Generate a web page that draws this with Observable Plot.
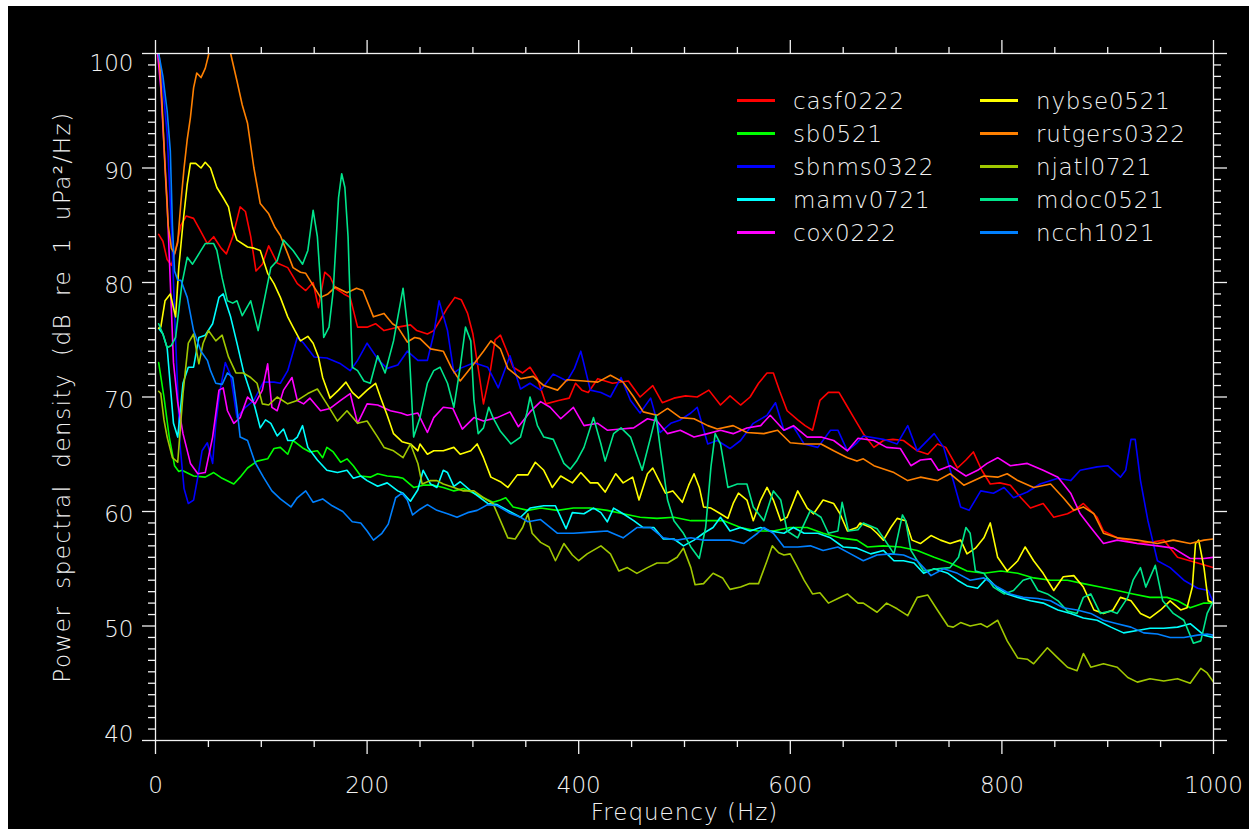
<!DOCTYPE html>
<html>
<head>
<meta charset="utf-8">
<script src="https://cdn.jsdelivr.net/npm/d3@7"></script>
<script src="https://cdn.jsdelivr.net/npm/@observablehq/plot@0.6"></script>
<style>
  html, body { margin: 0; padding: 0; background: #ffffff; }
  #wrap { position: relative; width: 1255px; height: 835px; overflow: hidden; }
  #bg { position: absolute; left: 8px; top: 6px; width: 1241px; height: 823px; background: #000; }
  #chart { position: absolute; left: 0; top: 0; }
  #legend { position: absolute; left: 737px; top: 84px; display: grid;
            grid-template-columns: 243px 243px; grid-auto-flow: column; grid-template-rows: repeat(5, 33px);
            font-family: "DejaVu Sans", sans-serif; font-weight: 200; font-size: 23px; color: #f2f2f2; letter-spacing: 0.8px; }
  .item { display: flex; align-items: center; height: 33px; white-space: nowrap; }
  .swatch { width: 38px; height: 0; border-top: 3px solid; margin-right: 18px; }
</style>
</head>
<body>
<div id="wrap">
  <div id="bg"></div>
  <div id="chart"></div>
  <div id="legend"></div>
</div>
<script>
// ---- series names (legend order) ----
const names = ["casf0222", "sb0521", "sbnms0322", "mamv0721", "cox0222",
               "nybse0521", "rutgers0322", "njatl0721", "mdoc0521", "ncch1021"];

// ---- series values: [frequency (Hz), PSD (dB re 1 uPa^2/Hz)] ----
const casf0222 = [[3,84.2],[7,83.6],[11,82],[15,81.5],[19,82.8],[24,85],[29,85.8],[36,85.6],[42,84.6],[49,83.4],[55,84],[62,83],[67,82.5],[73,84],[80,86.6],[85,86.2],[90,84],[95,81],[101,81.6],[107,83.2],[115,81.7],[125,81.3],[134,79.9],[142,79.3],[149,80],[154,77.8],[160,80.9],[165,80.5],[170,79.5],[178,79],[184,78.7],[191,76.1],[200,76.1],[208,76.4],[216,75.8],[229,76.1],[241,76.3],[247,75.8],[257,75.5],[263,75.8],[269,76.7],[276,77.8],[283,78.7],[289,78.5],[295,77.3],[300,75.5],[305,72.5],[310,69.4],[316,72],[321,75],[326,75.4],[333,73.8],[338,72.6],[347,72.1],[354,72.6],[361,71.6],[369,69.4],[381,69.7],[391,69.9],[397,71.2],[403,70.6],[409,70.4],[418,71.6],[432,71.2],[447,71.4],[458,70],[470,71],[479,69.5],[490,69.9],[501,70.1],[512,70],[523,70.6],[534,69.3],[543,70.1],[553,69.3],[562,70],[570,71.2],[578,72.1],[584,72.1],[590,70.5],[597,68.8],[607,68],[614,67.5],[621,67.1],[628,69.7],[636,70.4],[646,70.4],[653,69.3],[660,68.2],[669,66.8],[679,65.6],[688,66.2],[697,66.3],[707,66.2],[720,65.3],[730,65],[739,65.9],[747,65.6],[758,63.8],[766,64.5],[773,65.2],[781,63.6],[789,62.4],[798,62.5],[808,62.3],[818,61.2],[827,60.3],[839,60.7],[849,59.5],[862,59.8],[870,60.2],[877,60.7],[890,59.5],[896,58.3],[909,57.7],[928,57.2],[940,57.3],[953,57.5],[966,56],[985,55.5],[1000,55.1]];

const sb0521 = [[3,73],[8,70],[13,66.5],[18,64],[22,63.5],[25,63.6],[36,63.1],[47,63],[55,63.4],[63,62.9],[74,62.4],[80,63],[87,63.8],[96,64.4],[106,64.6],[112,65.5],[118,65.6],[125,65],[130,66.2],[140,65.5],[146,65.2],[153,65.3],[158,64.7],[162,65.6],[168,65.2],[175,64.3],[181,64.6],[187,64],[194,63.1],[203,63],[210,63.3],[219,63.1],[229,63],[234,62.9],[244,62.1],[253,62.3],[263,62.3],[272,62.1],[282,61.8],[291,62],[301,61.6],[310,61.2],[319,60.8],[326,61],[331,61.2],[338,60.4],[352,60.1],[364,60.3],[380,60.1],[395,60.3],[411,60.3],[427,60.1],[442,59.8],[458,59.5],[474,59.4],[490,59.5],[506,59.2],[522,59.2],[537,59.2],[553,58.6],[569,58.3],[584,58.3],[600,58.6],[616,58.6],[631,58.1],[647,57.7],[663,57.5],[673,56.9],[688,57],[704,56.9],[720,56.6],[736,56],[751,55.5],[767,54.8],[783,54.6],[799,54.8],[815,54.6],[830,54.2],[846,54],[862,54],[877,53.7],[893,53.4],[909,53.1],[924,52.8],[940,52.5],[956,52.5],[966,52.2],[978,51.6],[991,52],[1000,52]];

const sbnms0322 = [[3,100],[7,97],[11,93],[15,85],[19,75],[23,66],[27,62],[31,60.7],[36,61],[40,63],[44,65.3],[49,66],[54,64.2],[57,67.7],[61,70.6],[66,73],[71,71.9],[77,68.2],[85,69.1],[93,69.7],[102,71.3],[112,71.3],[118,71.2],[125,72.3],[134,75.2],[140,74.7],[150,73.5],[162,73.4],[175,72.9],[184,72.3],[191,73.2],[200,74.7],[211,73.2],[219,72.5],[229,72.8],[238,74],[248,73.2],[257,73.2],[263,75.5],[268,78.4],[276,75.8],[282,72.1],[288,72.5],[301,73],[314,72.6],[324,70.8],[335,73.6],[345,70.7],[354,71.2],[364,70.6],[376,72],[389,71.4],[396,72.5],[402,74],[411,70.6],[421,70.4],[430,70],[440,71.7],[449,69.7],[458,68.6],[468,69.9],[477,66.9],[487,67.7],[496,68],[506,68.6],[512,69.1],[522,65.9],[531,66.2],[543,65.5],[553,66.2],[565,67.7],[578,68.4],[586,69.5],[594,67.1],[603,67.4],[613,65.9],[626,65.6],[638,67.1],[645,67.1],[654,65.3],[663,66],[669,66.6],[688,66.3],[701,65.9],[711,67.5],[720,65.3],[736,66.8],[745,65.6],[754,62.7],[761,60.4],[769,60.1],[780,61.8],[792,61.6],[802,62.1],[811,61.2],[824,61.7],[836,62.4],[853,62.9],[865,62.7],[874,63.6],[890,63.9],[900,64],[912,63],[917,63.6],[922,66.3],[926,66.3],[931,62.7],[938,59.2],[947,55.7],[959,55.1],[972,54],[985,53.3],[995,53.1],[1000,52]];

const mamv0721 = [[3,76],[7,75.5],[11,74.3],[14,71],[17,67.7],[21,66.5],[26,71.2],[31,72.6],[36,72.6],[41,75.2],[47,75.4],[54,76.4],[60,78.7],[64,79],[71,77],[77,74.7],[83,72.3],[90,70.3],[94,69.1],[99,67.3],[104,68],[109,67.7],[115,66.6],[121,67.2],[125,66.2],[130,66.2],[134,66.5],[139,67.5],[144,65.6],[153,64.5],[162,63.6],[172,63.4],[181,63.6],[187,62.9],[194,63.1],[200,62.7],[210,62.2],[219,62.5],[229,61.8],[234,61.6],[241,60.9],[248,61.9],[253,63.6],[260,62.4],[266,62.1],[272,63.6],[276,63.4],[282,62.2],[288,62.6],[298,61.8],[307,61.2],[314,60.7],[323,60.6],[333,60.1],[345,59.5],[354,60.3],[367,60.5],[378,60.5],[388,58.5],[394,59.9],[405,59.8],[414,60.3],[421,59.9],[427,59.1],[433,60.3],[442,59.8],[452,59.2],[461,58.6],[471,58.6],[480,57.6],[490,57.6],[499,57],[509,57.5],[518,58.1],[527,58.6],[534,59.5],[543,58.3],[553,58.6],[562,58.3],[572,58.6],[581,58.3],[594,58.1],[603,58.6],[613,58.1],[626,58.1],[638,57.7],[650,56.9],[663,56.8],[676,56.3],[688,56.6],[698,55.7],[707,55.7],[717,55.5],[726,54.6],[736,55],[749,54.6],[758,54],[767,53.5],[777,53.3],[786,54.2],[796,53.3],[805,52.8],[815,52.5],[827,52.2],[839,52],[853,51.4],[865,51.1],[877,50.7],[890,50.5],[903,49.9],[915,49.4],[928,49.6],[940,49.8],[953,49.8],[966,49.9],[978,50.2],[991,49.2],[1000,49]];

const cox0222 = [[2,100],[5,97],[8,92],[11,87],[14,80],[17,73],[21,69.5],[26,66.8],[33,64.2],[40,63.3],[47,63.4],[54,66.5],[60,70.6],[64,70.8],[68,68.8],[74,67.7],[80,68.2],[87,70],[94,69.4],[101,70.6],[106,72.9],[110,69.1],[115,68.8],[121,70.6],[129,71.7],[134,69.7],[140,69.4],[146,69.9],[156,68.8],[165,69],[175,69.7],[184,70.3],[191,67.7],[200,69.4],[210,69.3],[222,68.8],[232,68.6],[238,68.4],[248,68.6],[257,66.9],[263,68.2],[272,69.1],[281,69],[290,67.2],[301,68.2],[310,67.9],[323,68.2],[335,68.7],[343,67.4],[354,68.7],[364,69.6],[373,69.1],[383,68.1],[395,69.1],[405,67.5],[418,67.7],[427,67.1],[440,67.2],[452,67.3],[465,68.1],[474,67.9],[484,66.8],[496,67.1],[509,66.5],[522,66.8],[534,67.1],[546,66.8],[559,67.3],[572,67.5],[581,68.4],[594,67.1],[603,67.5],[616,66.5],[629,66.5],[641,66.2],[654,65.3],[664,66.4],[679,66.2],[691,65.6],[704,65.5],[714,64],[723,64.5],[733,64.6],[740,63.6],[751,64],[766,63.1],[777,63.6],[786,64.2],[796,64.7],[808,64],[824,64.2],[839,63.6],[853,63],[865,61.6],[874,59.8],[884,58.6],[896,57.2],[909,57.5],[928,57.2],[947,57],[962,56.8],[978,55.9],[991,55.9],[1000,56]];

const nybse0521 = [[3,76],[5,76.1],[9,78.4],[14,79],[19,77],[22,81.3],[26,85.2],[30,88.6],[33,90.4],[38,90.4],[43,90],[47,90.5],[52,90],[58,88.3],[64,87.4],[69,86.6],[73,84.8],[77,83.7],[87,83.1],[93,83],[99,82.8],[106,80.8],[112,79.9],[118,78.7],[125,77],[130,76.1],[137,74.9],[144,75.3],[149,74.7],[154,73.5],[158,71.7],[165,69.9],[173,70.6],[180,71.3],[186,70.4],[192,69.9],[200,70.6],[208,71.2],[213,69.9],[219,68.4],[225,66.8],[233,66.1],[241,65.9],[248,65.3],[250,65.9],[257,65],[263,65.3],[272,65.3],[282,65.6],[288,65],[298,65.3],[304,65.9],[310,64.7],[317,63],[326,62.6],[333,62.1],[342,63.2],[352,63.2],[359,64.3],[367,63.6],[375,62.1],[383,63.1],[394,62.5],[402,63.4],[411,62.5],[418,62.5],[425,61.7],[435,63.3],[442,62.5],[451,63],[457,61],[465,63.3],[470,63.8],[476,62.7],[482,61.6],[489,61.8],[498,60.8],[504,62.3],[509,63.3],[514,62.1],[518,60.4],[525,60.3],[534,59.8],[541,59.4],[546,60.7],[551,61.6],[559,61],[565,59.2],[572,61],[578,62.1],[584,61],[591,59.2],[597,59.5],[607,61.8],[616,60.3],[622,59.8],[631,61],[641,60.7],[647,59.8],[654,58.3],[663,58.6],[666,59],[676,58.6],[682,58.1],[688,57.5],[695,58.6],[701,59.4],[709,59.2],[715,57.5],[723,57.2],[733,57.9],[742,57.5],[751,57.2],[761,57.5],[767,56.3],[775,56.8],[783,57.7],[789,59],[796,56],[805,54.8],[815,55.7],[822,56.9],[830,55.7],[839,54.6],[849,53.1],[858,54.3],[868,54.4],[877,53.4],[887,51.4],[896,51.1],[905,51.4],[912,52.5],[922,52.2],[931,51.1],[940,50.7],[950,51.4],[959,52.2],[969,51.4],[975,51.6],[980,53.4],[983,57.2],[986,57.5],[991,55.1],[995,52.2],[1000,52]];

const rutgers0322 = [[3,100.5],[6,96],[9,90],[12,85],[15,83],[18,82.5],[21,83.5],[24,87],[27,90],[30,92.5],[33,94.4],[36,97],[39,98.3],[43,97.9],[47,98.7],[50,99.8],[53,101.5],[60,103],[67,102],[71,100],[77,97.6],[82,95.5],[87,93.9],[93,90],[99,86.9],[107,86],[113,84.8],[118,84.1],[125,82.5],[130,81.3],[137,80.9],[142,80.8],[150,79.6],[156,78.7],[163,79],[170,79.6],[181,79.1],[190,79.5],[196,79.3],[206,77],[216,77.3],[224,76.4],[229,76.1],[238,74.8],[245,75.2],[250,75.1],[260,74.2],[272,74],[280,72.5],[288,71.4],[295,72.2],[301,72.9],[310,74],[317,74.9],[326,74.2],[333,72.5],[345,71.6],[357,71.8],[367,71],[380,70.6],[389,71.5],[405,71.4],[418,71.3],[430,71.9],[442,71.3],[452,70],[461,68.7],[474,68.4],[484,69],[496,68.2],[509,68.1],[522,67.5],[531,67.2],[546,67.5],[559,66.9],[575,66.8],[588,67.1],[600,66],[613,65.9],[629,65.9],[641,65.3],[654,64.7],[663,64.4],[669,64.6],[679,64],[698,63.4],[711,62.7],[723,63],[739,62.7],[751,63.3],[764,62.3],[783,63.1],[796,63],[805,63.3],[815,62.7],[830,62.1],[846,62.4],[858,61.2],[868,60.1],[877,60.4],[887,59.8],[896,58.1],[909,57.7],[928,57.5],[947,57.2],[962,57.5],[978,57.2],[991,57.5],[1000,57.6]];

const njatl0721 = [[3,70.5],[5,70.3],[8,68],[11,66.5],[16,64.7],[21,64.3],[26,70.3],[31,74.7],[36,75.5],[41,72.9],[45,74.7],[50,75.8],[57,74.9],[63,75.4],[69,73.5],[76,72.1],[83,72.1],[90,71.7],[96,71.2],[101,69.4],[107,69.3],[115,70],[125,69.4],[134,69.7],[144,70.3],[153,70.7],[162,69.4],[172,67.9],[181,68.8],[191,67.7],[200,67.9],[210,66.5],[216,65.6],[225,65.3],[234,64.7],[241,65.9],[248,64.2],[252,62.4],[260,62.7],[266,62.7],[272,62.4],[282,62.1],[291,61.8],[301,61.8],[310,61.2],[319,60.7],[326,59.2],[333,57.7],[340,57.6],[347,58.6],[352,59.8],[356,58.1],[364,57.3],[372,56.9],[378,55.7],[386,57.2],[394,56.2],[400,55.7],[408,56.3],[421,57],[430,56.3],[438,54.8],[446,55.1],[455,54.6],[465,55.1],[474,55.5],[484,55.5],[493,56],[499,56.8],[506,55.1],[510,53.6],[518,53.7],[527,54.6],[536,54.2],[543,53.2],[553,53.4],[561,53.7],[570,53.7],[578,55.7],[583,57],[589,56.4],[594,56.2],[600,56.3],[607,55.1],[613,54],[621,52.8],[628,52.9],[636,52],[645,52.4],[654,52.8],[664,52],[669,52],[682,51.2],[691,52],[701,51.5],[711,50.9],[720,52.5],[730,52.7],[739,51.4],[749,50],[754,49.9],[761,50.3],[770,50],[780,50.2],[786,49.9],[796,50.5],[805,48.7],[815,47.2],[824,47.1],[830,46.7],[843,48.1],[853,47.2],[862,46.4],[871,46.1],[877,47.6],[884,46.4],[896,46.7],[909,46.4],[919,45.5],[928,45.1],[940,45.4],[953,45.2],[966,45.4],[978,45],[988,46.3],[994,45.9],[1000,45.1]];

const mdoc0521 = [[3,76.4],[7,75.5],[11,74.3],[15,74.5],[19,75.2],[25,79.9],[30,82.2],[35,81.6],[43,82.8],[47,83.4],[55,83.4],[58,82.8],[63,80.4],[68,78.4],[73,78.2],[77,78.4],[82,77.1],[90,78.4],[97,75.8],[104,79],[109,81.3],[115,81.9],[121,83.7],[130,82.8],[139,81.6],[144,82.8],[149,86.3],[153,84],[156,79.9],[159,75.2],[164,76.1],[168,79.3],[173,87.4],[176,89.5],[179,88.3],[182,84],[186,72.6],[191,72.3],[197,71.4],[203,71.2],[210,73.6],[217,72.1],[225,74.9],[234,79.5],[239,75.5],[244,66.5],[250,68.2],[257,71.2],[263,72.3],[269,72.6],[276,71.2],[282,69.1],[288,72.6],[293,76.1],[298,74.9],[301,69.7],[305,66.8],[310,67.3],[315,69.1],[319,68.2],[326,67],[336,65.9],[345,66.5],[351,68.6],[354,70],[361,67.5],[367,66.5],[376,66.3],[386,64.2],[392,63.7],[398,64.4],[405,65.6],[414,68.2],[421,65.9],[425,64.4],[433,66.8],[440,67.3],[449,66.5],[460,63.6],[468,66.5],[473,68.4],[477,65.6],[484,61],[490,59.2],[499,58.1],[506,56.9],[514,55.9],[520,58.6],[525,63.9],[529,66.8],[534,65.9],[541,62.1],[550,62.4],[559,62.4],[565,60.4],[575,59.2],[584,61.8],[591,61],[597,58.3],[607,57.7],[619,60.1],[629,59.5],[636,58.1],[645,58.3],[649,60.8],[655,58.3],[664,58.4],[669,59],[682,58.5],[688,57.7],[698,56.3],[706,59.7],[709,59.2],[714,56.6],[726,54.8],[739,55],[751,55.1],[759,56],[766,58.6],[770,58.1],[775,54.8],[783,54.6],[792,53.4],[802,52.8],[811,53.1],[820,54],[827,54.2],[834,53.1],[843,52.8],[853,52.2],[862,51.3],[871,51.1],[877,52.5],[884,52.8],[893,51.1],[903,51.3],[909,51.1],[919,52.5],[924,54],[931,55.1],[936,53.4],[945,55.3],[952,52.2],[962,51.1],[972,50.5],[981,48.5],[988,48.7],[994,51.1],[1000,52.2]];

const ncch1021 = [[3,100],[7,98],[11,95],[14,91.5],[16,85],[18,81],[21,80.2],[24,80.2],[30,78.7],[36,75.8],[43,74],[49,73.2],[52,72.3],[57,71.2],[63,71.1],[68,72.1],[73,71.7],[77,69],[80,66.5],[87,66.2],[94,64.3],[102,63],[110,61.8],[118,61.1],[128,60.4],[134,61.2],[142,61.8],[149,60.8],[158,61.1],[167,60.5],[177,60],[186,59.1],[194,59],[200,58.3],[206,57.5],[214,58.1],[220,58.9],[227,61.2],[233,61.6],[238,61],[243,59.7],[250,60.2],[257,60.6],[266,60.1],[276,59.8],[285,59.5],[295,59.9],[304,60.1],[314,60.6],[323,60.5],[334,59.9],[345,59.5],[352,59.1],[364,59.3],[380,58.1],[395,58.1],[411,58.2],[427,58.3],[442,57.7],[455,58.6],[468,58.6],[480,57.7],[493,57.5],[506,57.7],[518,57.5],[531,57.5],[543,57.5],[556,57.2],[569,58.1],[575,58.6],[584,58.1],[594,56.9],[607,56.9],[619,57],[631,56.6],[645,56.9],[657,56.3],[669,55.7],[682,56.2],[695,56.3],[707,56.2],[720,55.7],[733,54.4],[745,55],[758,54.6],[770,54],[783,54.2],[796,53.4],[808,52.8],[820,52.5],[834,52.4],[846,52.2],[858,51.6],[871,51.4],[884,51.1],[896,50.5],[909,50.2],[922,49.9],[934,49.4],[947,49.3],[959,49],[972,49],[985,49.2],[994,49.3],[1000,49.2]];

// ---- axis ticks ----
const xMajorTicks = [0, 200, 400, 600, 800, 1000];
const xMinorTicks = [50, 100, 150, 250, 300, 350, 450, 500, 550, 650, 700, 750, 850, 900, 950];
const yMajorTicks = [40, 50, 60, 70, 80, 90, 100];
const yInnerLabels = [50, 60, 70, 80, 90];
const yMinorTicks = [41,42,43,44,45,46,47,48,49,51,52,53,54,55,56,57,58,59,61,62,63,64,65,66,67,68,69,71,72,73,74,75,76,77,78,79,81,82,83,84,85,86,87,88,89,91,92,93,94,95,96,97,98,99];

// ---- styles ----
const colors = ["#ff0000", "#00ff00", "#0000ff", "#00ffff", "#ff00ff",
                "#ffff00", "#ff8000", "#a0c800", "#00e68c", "#0080ff"];
const ink = "#f2f2f2";

const seriesValues = [casf0222, sb0521, sbnms0322, mamv0721, cox0222,
                      nybse0521, rutgers0322, njatl0721, mdoc0521, ncch1021];
const rows = seriesValues.flatMap((vals, i) => vals.map(([f, db]) => ({name: names[i], f, db})));

const font = "'DejaVu Sans', sans-serif";

const chart = Plot.plot({
  width: 1255,
  height: 835,
  marginLeft: 155,
  marginRight: 42,
  marginTop: 53,
  marginBottom: 95,
  style: {background: "transparent", color: ink, fontFamily: font, fontSize: "23px", fontWeight: 200, overflow: "visible"},
  x: {domain: [0, 1000]},
  y: {domain: [40, 100]},
  color: {domain: names, range: colors},
  marks: [
    Plot.line(rows, {x: "f", y: "db", z: "name", stroke: "name", strokeWidth: 1.6, clip: true}),
    Plot.frame({stroke: ink, strokeWidth: 1.3}),
    // bottom axis
    Plot.axisX({anchor: "bottom", ticks: xMinorTicks, tickSize: 7, text: null, label: null, strokeWidth: 1.3}),
    Plot.axisX({anchor: "bottom", ticks: xMajorTicks, tickSize: 14, text: null, label: null, strokeWidth: 1.3}),
    Plot.axisX({anchor: "bottom", ticks: xMajorTicks, tickSize: 0, tickPadding: 36, tickFormat: "d", label: null}),
    // top axis
    Plot.axisX({anchor: "top", ticks: xMinorTicks, tickSize: 7, text: null, label: null, strokeWidth: 1.3}),
    Plot.axisX({anchor: "top", ticks: xMajorTicks, tickSize: 14, text: null, label: null, strokeWidth: 1.3}),
    // left axis
    Plot.axisY({anchor: "left", ticks: yMinorTicks, tickSize: 7, text: null, label: null, strokeWidth: 1.3}),
    Plot.axisY({anchor: "left", ticks: yMajorTicks, tickSize: 13, text: null, label: null, strokeWidth: 1.3}),
    Plot.axisY({anchor: "left", ticks: yInnerLabels, tickSize: 0, tickPadding: 22, tickFormat: "d", label: null, dy: 3.5}),
    Plot.axisY({anchor: "left", ticks: [100], tickSize: 0, tickPadding: 22, tickFormat: "d", label: null, dy: 10.5}),
    Plot.axisY({anchor: "left", ticks: [40], tickSize: 0, tickPadding: 22, tickFormat: "d", label: null, dy: -5.5}),
    // right axis
    Plot.axisY({anchor: "right", ticks: yMinorTicks, tickSize: 7, text: null, label: null, strokeWidth: 1.3}),
    Plot.axisY({anchor: "right", ticks: yMajorTicks, tickSize: 13, text: null, label: null, strokeWidth: 1.3}),
    // axis titles
    Plot.text(["Frequency (Hz)"], {frameAnchor: "bottom", text: d => d, dy: 79, fill: ink,
      style: {letterSpacing: "1px"}}),
    Plot.text(["Power spectral density (dB re 1 uPa\u00b2/Hz)"], {frameAnchor: "left", text: d => d, rotate: -90, dx: -93, textAnchor: "middle", fill: ink})
  ]
});
// widen titles to match the reference's broad vector font
chart.querySelectorAll("text").forEach(t => {
  if (t.textContent.startsWith("Power spectral")) {
    t.setAttribute("letter-spacing", "1.5");
    t.setAttribute("word-spacing", "8");
  } else if (t.textContent.startsWith("Frequency")) {
    t.setAttribute("letter-spacing", "1");
  }
});
document.getElementById("chart").appendChild(chart);

// ---- legend ----
const legend = document.getElementById("legend");
names.forEach((n, i) => {
  const item = document.createElement("div");
  item.className = "item";
  const sw = document.createElement("span");
  sw.className = "swatch";
  sw.style.borderTopColor = colors[i];
  const label = document.createElement("span");
  label.textContent = n;
  item.appendChild(sw);
  item.appendChild(label);
  legend.appendChild(item);
});
</script>
</body>
</html>
